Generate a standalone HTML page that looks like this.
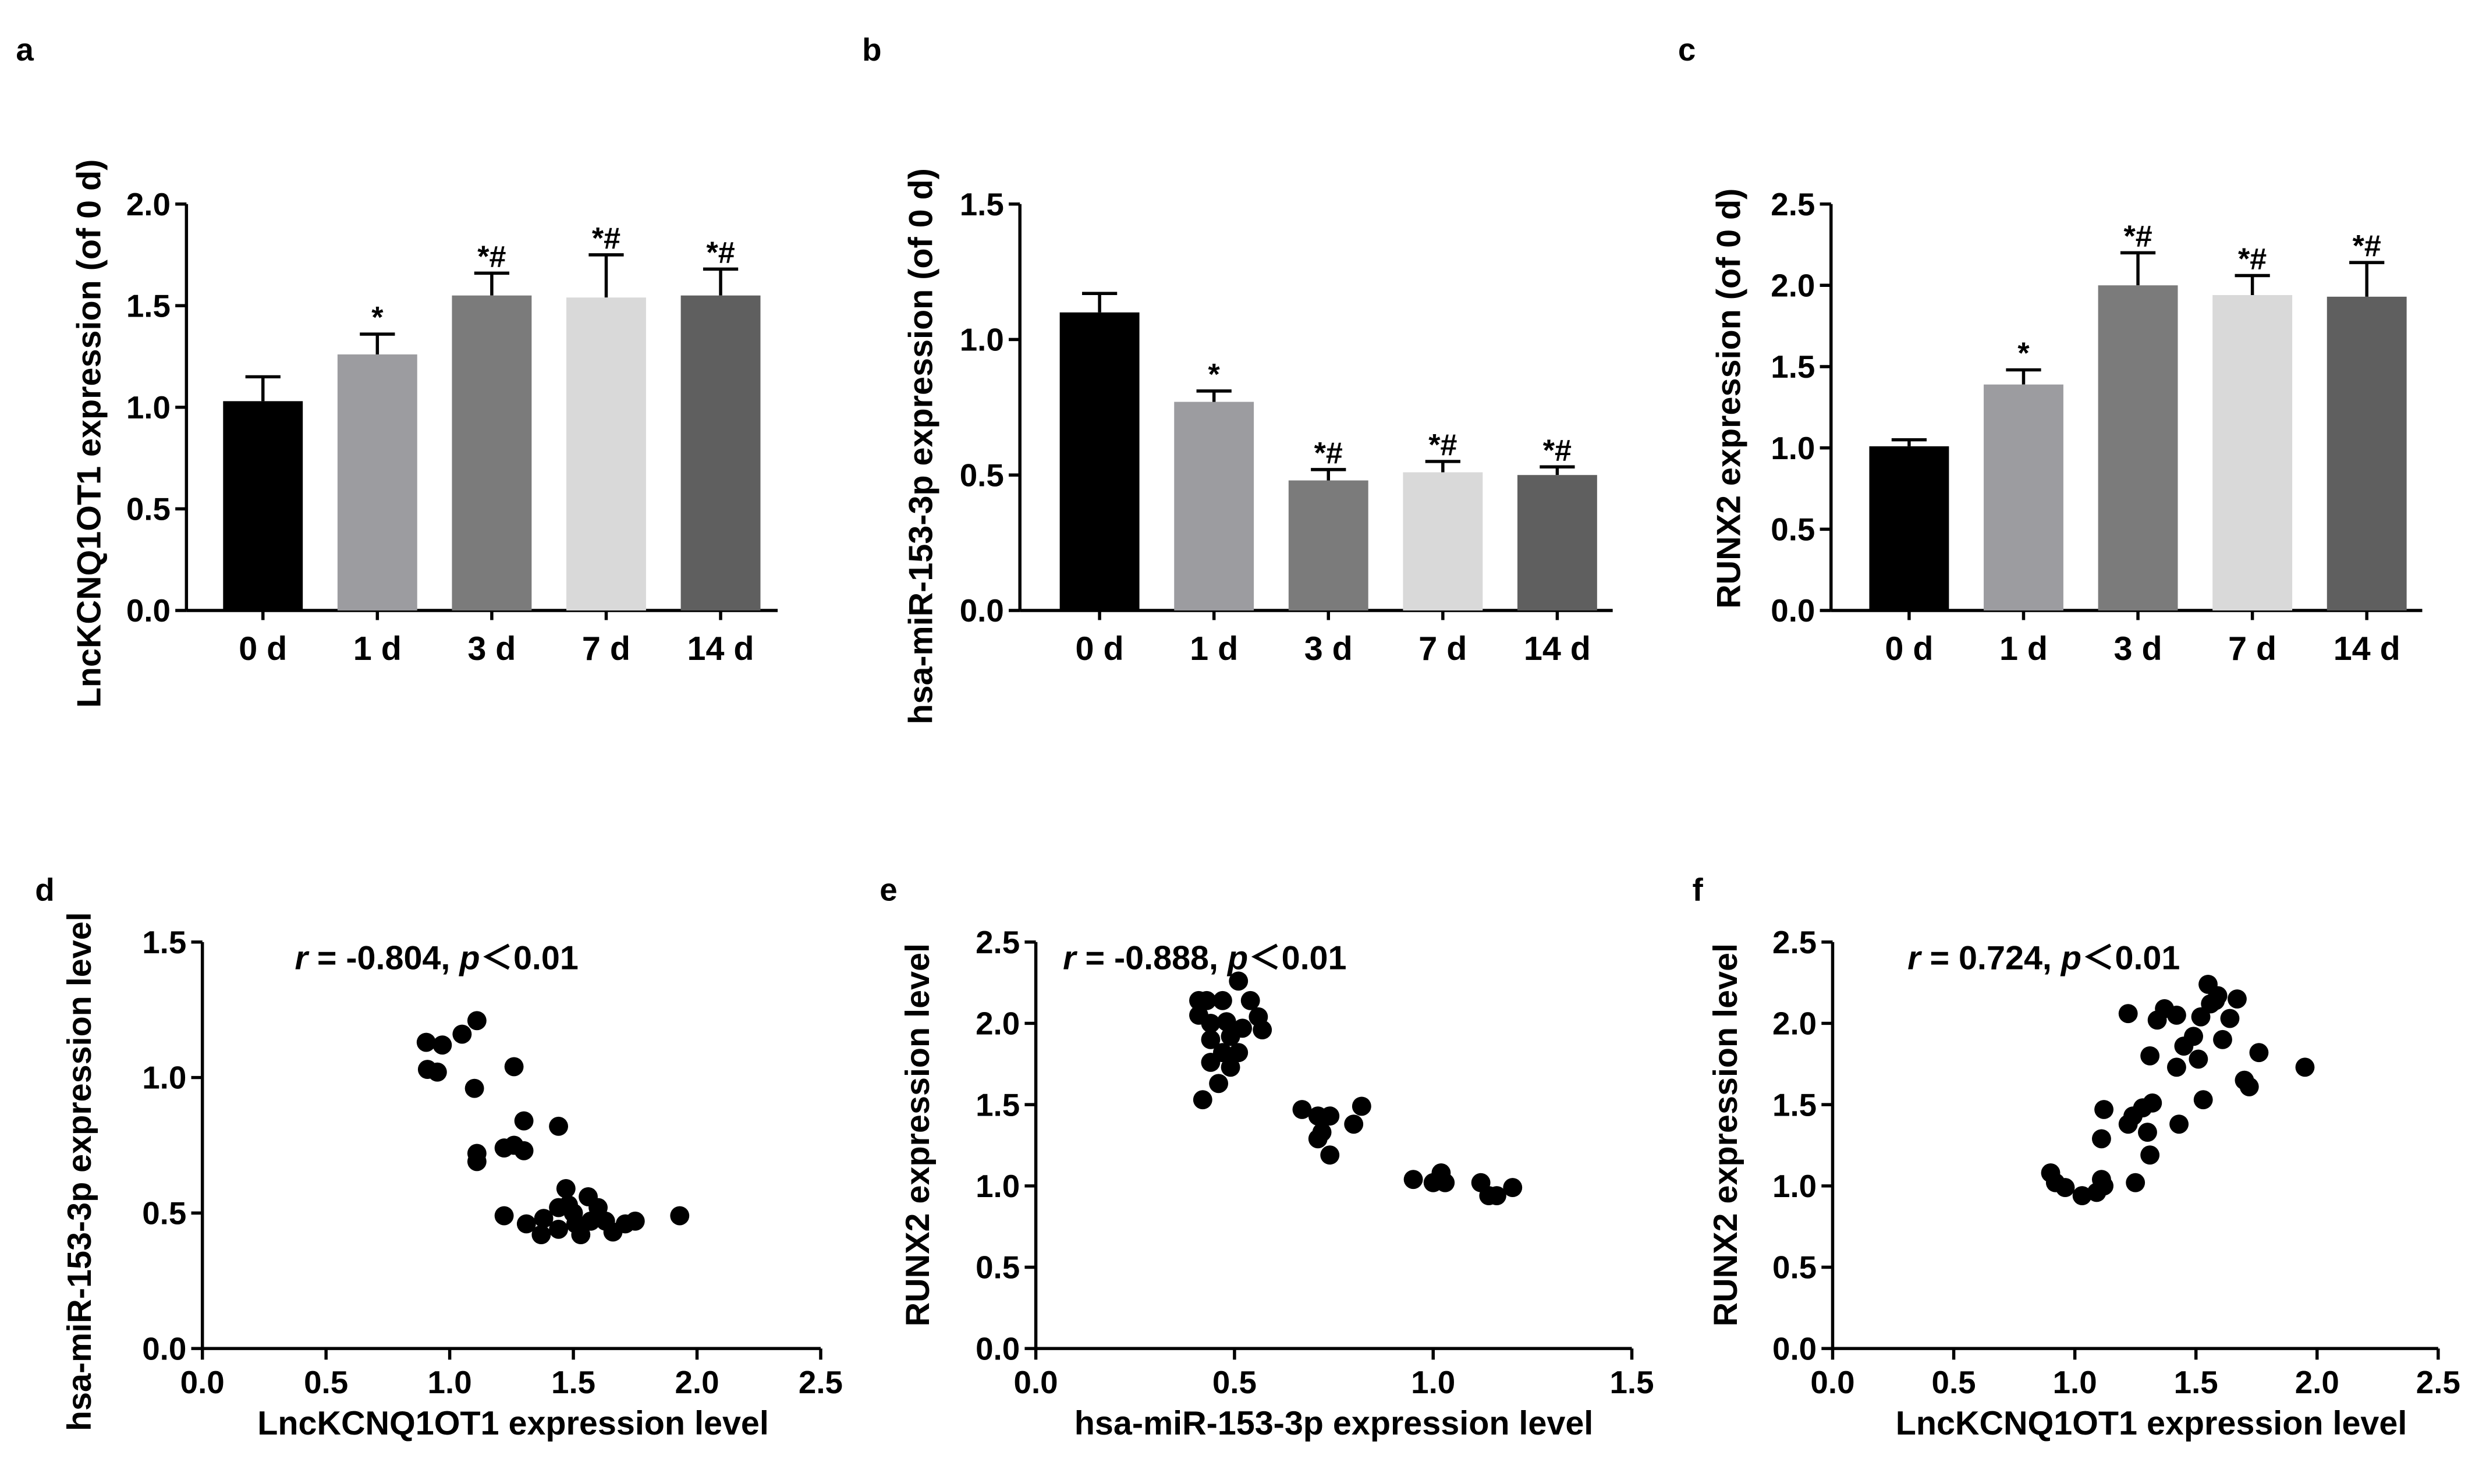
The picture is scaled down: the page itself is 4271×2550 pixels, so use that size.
<!DOCTYPE html>
<html><head><meta charset="utf-8"><style>
html,body{margin:0;padding:0;background:#fff}
svg{display:block}
text{font-family:"Liberation Sans","Noto Sans CJK SC",sans-serif;font-weight:bold;fill:#000}
</style></head><body>
<svg id="fig" xmlns="http://www.w3.org/2000/svg" width="4271" height="2550" viewBox="0 0 1560 931" preserveAspectRatio="none"></svg>
<script>
const cats=["0 d","1 d","3 d","7 d","14 d"];
const barColors=["#000000","#9c9ca0","#7b7b7b","#d9d9d9","#5f5f5f"];
const aVals=[1.03,1.26,1.55,1.54,1.55];
const aErr=[0.12,0.10,0.11,0.21,0.13];
const aSig=["","*","*#","*#","*#"];
const bVals=[1.10,0.77,0.48,0.51,0.50];
const bErr=[0.07,0.04,0.04,0.04,0.03];
const bSig=["","*","*#","*#","*#"];
const cVals=[1.01,1.39,2.00,1.94,1.93];
const cErr=[0.04,0.09,0.20,0.12,0.21];
const cSig=["","*","*#","*#","*#"];
const aTicks=["0.0","0.5","1.0","1.5","2.0"];
const bTicks=["0.0","0.5","1.0","1.5"];
const cTicks=["0.0","0.5","1.0","1.5","2.0","2.5"];
const dX=[0.905,0.97,1.05,1.11,0.91,0.95,1.10,1.26,1.11,1.11,1.22,1.26,1.30,1.30,1.44,1.22,1.31,1.38,1.37,1.44,1.47,1.48,1.50,1.53,1.56,1.57,1.51,1.63,1.66,1.71,1.75,1.93,1.44,1.60];
const dY=[1.13,1.12,1.16,1.21,1.03,1.02,0.96,1.04,0.72,0.69,0.74,0.75,0.84,0.73,0.82,0.49,0.46,0.48,0.42,0.44,0.59,0.53,0.50,0.42,0.56,0.47,0.46,0.47,0.43,0.46,0.47,0.49,0.52,0.52];
const eX=[0.41,0.43,0.41,0.44,0.47,0.51,0.54,0.56,0.57,0.49,0.47,0.44,0.49,0.46,0.42,0.49,0.52,0.51,0.48,0.44,0.67,0.71,0.74,0.71,0.72,0.74,0.82,0.80,0.95,1.02,1.03,1.00,1.12,1.14,1.16,1.20];
const eY=[2.14,2.14,2.05,2.00,2.14,2.26,2.14,2.04,1.96,1.92,1.82,1.76,1.73,1.63,1.53,1.92,1.97,1.82,2.01,1.90,1.47,1.43,1.43,1.29,1.33,1.19,1.49,1.38,1.04,1.08,1.02,1.02,1.02,0.94,0.94,0.99];
const fX=[0.90,0.92,0.96,1.03,1.09,1.11,1.12,1.11,1.12,1.22,1.24,1.22,1.25,1.28,1.30,1.31,1.32,1.31,1.34,1.37,1.42,1.43,1.42,1.45,1.51,1.53,1.55,1.56,1.59,1.61,1.64,1.67,1.70,1.72,1.76,1.95,1.49,1.58,1.52];
const fY=[1.08,1.02,0.99,0.94,0.96,1.04,1.00,1.29,1.47,1.38,1.43,2.06,1.02,1.48,1.33,1.19,1.51,1.80,2.02,2.09,2.05,1.38,1.73,1.86,1.78,1.53,2.24,2.12,2.17,1.90,2.03,2.15,1.65,1.61,1.82,1.73,1.92,2.14,2.04];
const x15Ticks=["0.0","0.5","1.0","1.5"];
const x25Ticks=["0.0","0.5","1.0","1.5","2.0","2.5"];

const svg=document.getElementById('fig');
const NS="http://www.w3.org/2000/svg";
function el(tag,attrs,parent){const e=document.createElementNS(NS,tag);for(const k in attrs)e.setAttribute(k,attrs[k]);(parent||svg).appendChild(e);return e;}
function txt(s,x,y,size,anchor,parent,rot){const t=el('text',{x:x,y:y,'font-size':size,'text-anchor':anchor||'middle'},parent);if(rot)t.setAttribute('transform',`rotate(-90 ${x} ${y})`);t.textContent=s;return t;}

function yAxis(g,ax,y0,yTop,ticks,max){
  const sy=v=>y0-(v/max)*(y0-yTop);
  const ln=el('line',{x1:ax,y1:y0,x2:ax,y2:yTop,stroke:'#000','stroke-width':2},g);
  
  
  ticks.forEach(t=>{const v=parseFloat(t);const y=sy(v);
    el('line',{x1:ax-7,y1:y,x2:ax,y2:y,stroke:'#000','stroke-width':2},g);
    const l=txt(t,ax-10,y+7,20,'end',g);
    
    });
  return sy;
}

function barPanel(name,letter,lx,ax,xEnd,centers0,step,vals,errs,sigs,ticks,max,title,tx,ty){
  const g=el('g',{});
  
  
  const y0=383,yTop=128;
  const L=txt(letter,lx,38,20,'start',g);
  
  
  const sy=yAxis(g,ax,y0,yTop,ticks,max);
  el('line',{x1:ax,y1:y0,x2:xEnd,y2:y0,stroke:'#000','stroke-width':2},g);
  const bw=50;
  vals.forEach((v,i)=>{const cx=centers0+i*step;const top=sy(v);const et=sy(v+errs[i]);
    el('line',{x1:cx,y1:top,x2:cx,y2:et,stroke:'#000','stroke-width':2},g);
    el('line',{x1:cx-11,y1:et,x2:cx+11,y2:et,stroke:'#000','stroke-width':2},g);
    const r=el('rect',{x:cx-bw/2,y:top,width:bw,height:y0-top,fill:barColors[i]},g);
    
    
    el('line',{x1:cx,y1:y0,x2:cx,y2:y0+6,stroke:'#000','stroke-width':2},g);
    const c=txt(cats[i],cx,414,21,'middle',g);
    
    
    if(sigs[i]){const s=txt(sigs[i],cx,et-4,19,'middle',g);
      
      }
  });
  const t=txt(title,tx,ty,21,'middle',g,true);
  
  
}
barPanel('panel-a','a',10,117,488,165,71.8,aVals,aErr,aSig,aTicks,2.0,'LncKCNQ1OT1 expression (of 0 d)',63,272);
barPanel('panel-b','b',541,640,1012,690,71.8,bVals,bErr,bSig,bTicks,1.5,'hsa-miR-153-3p expression (of 0 d)',585,280);
barPanel('panel-c','c',1053,1149,1520,1198,71.8,cVals,cErr,cSig,cTicks,2.5,'RUNX2 expression (of 0 d)',1092,250);

function scatterPanel(name,letter,lx,ax,axEnd,xmax,xTicks,ymax,yTicks,xs,ys,xt,xtx,yt,ytx,ytc,stat,sx0){
  const g=el('g',{});
  
  
  const y0=846,yTop=591;
  const L=txt(letter,lx,565,20,'start',g);
  
  
  const sy=yAxis(g,ax,y0,yTop,yTicks,ymax);
  const sx=v=>ax+(v/xmax)*(axEnd-ax);
  el('line',{x1:ax,y1:y0,x2:axEnd,y2:y0,stroke:'#000','stroke-width':2},g);
  xTicks.forEach(t=>{const x=sx(parseFloat(t));
    el('line',{x1:x,y1:y0,x2:x,y2:y0+7,stroke:'#000','stroke-width':2},g);
    const l=txt(t,x,874,20,'middle',g);
    
    });
  xs.forEach((v,i)=>{const p=el('circle',{cx:sx(v),cy:sy(ys[i]),r:6,fill:'#000'},g);
    
    });
  const a=txt(xt,xtx,900,21,'middle',g);
  
  
  const b=txt(yt,ytx,ytc,21,'middle',g,true);
  
  
  const s=el('text',{x:sx0,y:608,'font-size':21,'text-anchor':'start'},g);
  
  
  s.innerHTML='<tspan font-style="italic">r</tspan> = '+stat+', <tspan font-style="italic">p</tspan>＜0.01';
}
scatterPanel('panel-d','d',22,127,515,2.5,x25Ticks,1.5,bTicks,dX,dY,'LncKCNQ1OT1 expression level',322,'hsa-miR-153-3p expression level',57,735,'-0.804',185);
scatterPanel('panel-e','e',552,650,1024,1.5,x15Ticks,2.5,cTicks,eX,eY,'hsa-miR-153-3p expression level',837,'RUNX2 expression level',583,712,'-0.888',667);
scatterPanel('panel-f','f',1062,1150,1530,2.5,x25Ticks,2.5,cTicks,fX,fY,'LncKCNQ1OT1 expression level',1350,'RUNX2 expression level',1090,712,'0.724',1197);
</script>
</body></html>
